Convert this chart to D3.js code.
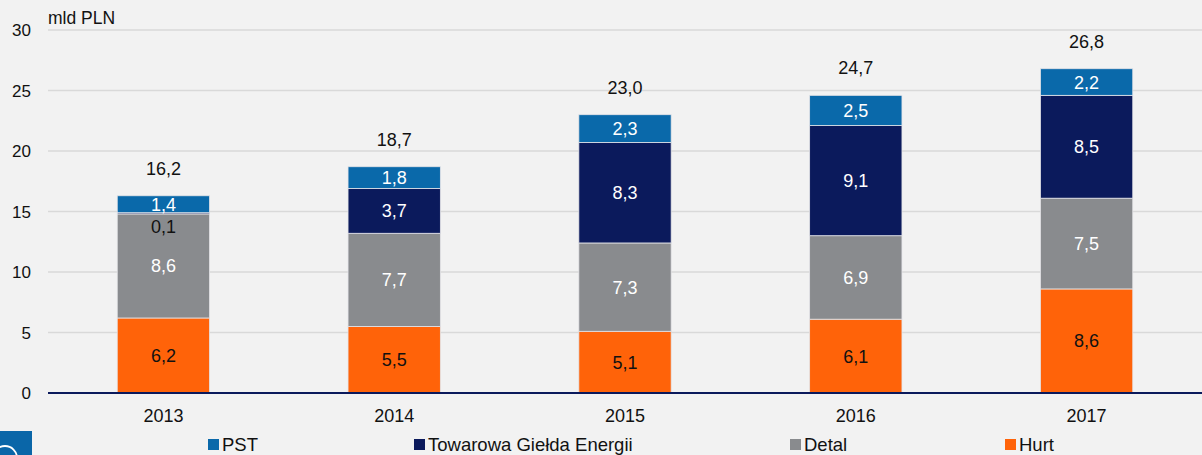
<!DOCTYPE html>
<html><head><meta charset="utf-8">
<script src="https://cdn.jsdelivr.net/npm/d3@7"></script>
<style>
html,body{margin:0;padding:0;background:#F2F2F2;}
svg{display:block;font-family:"Liberation Sans",Arial,sans-serif;}
</style></head><body>
<svg id="c" width="1202" height="455"></svg>
<script>
const years = ["2013","2014","2015","2016","2017"];
const seriesNames = ["Hurt","Detal","Towarowa Giełda Energii","PST"];
const hurt = [6.2,5.5,5.1,6.1,8.6];
const detal = [8.6,7.7,7.3,6.9,7.5];
const tge = [0.1,3.7,8.3,9.1,8.5];
const pst = [1.4,1.8,2.3,2.5,2.2];
const totals = [16.2,18.7,23.0,24.7,26.8];
const yTicks = [0,5,10,15,20,25,30];
const legendOrder = ["PST","Towarowa Giełda Energii","Detal","Hurt"];
const colors = {"Hurt":"#FF6309","Detal":"#898B8E","Towarowa Giełda Energii":"#0B1A5C","PST":"#0A69AA"};
const labelColors = {"Hurt":"#111","Detal":"#fff","Towarowa Giełda Energii":"#fff","PST":"#fff"};

const svg = d3.select("#c");
const x = d3.scaleBand().domain(years).range([48,1202]).paddingInner(0.6).paddingOuter(0.3);
const y = d3.scaleLinear().domain([0,30]).range([393,30]);

// gridlines
svg.append("g").selectAll("line").data(yTicks.filter(d=>d>0)).join("line")
  .attr("x1",48).attr("x2",1202).attr("y1",d=>y(d)).attr("y2",d=>y(d))
  .attr("stroke","#D9D9D9").attr("stroke-width",1.5);

// y labels
svg.append("g").selectAll("text").data(yTicks).join("text")
  .attr("x",31).attr("y",d=>y(d)+6).attr("text-anchor","end")
  .attr("font-size",17).attr("fill","#111").text(d=>d);

svg.append("text").attr("x",48).attr("y",24).attr("font-size",17.5).attr("fill","#111").text("mld PLN");

const vals = {"Hurt":hurt,"Detal":detal,"Towarowa Giełda Energii":tge,"PST":pst};
const table = years.map((yr,i)=>{const o={year:yr}; seriesNames.forEach(s=>o[s]=vals[s][i]); return o;});
const stack = d3.stack().keys(seriesNames)(table);

const bw = x.bandwidth();
const g = svg.append("g");
stack.forEach(layer=>{
  const key = layer.key;
  g.selectAll(null).data(layer).join("rect")
    .attr("x",d=>x(d.data.year)).attr("width",bw)
    .attr("y",d=>y(d[1])).attr("height",d=>y(d[0])-y(d[1]))
    .attr("fill",colors[key]).attr("stroke","#E4E4E8").attr("stroke-width",0.8);
});
// segment labels
stack.forEach(layer=>{
  const key = layer.key;
  g.selectAll(null).data(layer).join("text")
    .attr("x",d=>x(d.data.year)+bw/2)
    .attr("y",d=>{
      const v=d[1]-d[0];
      if(key==="Towarowa Giełda Energii" && v<0.5) return y(d[1])+20;
      return (y(d[0])+y(d[1]))/2+6.5;
    })
    .attr("text-anchor","middle").attr("font-size",18)
    .attr("fill",d=>(key==="Towarowa Giełda Energii" && d[1]-d[0]<0.5)?"#111":labelColors[key])
    .text(d=>d3.format(".1f")(d[1]-d[0]).replace(".",","));
});
// totals
g.selectAll(null).data(years).join("text")
  .attr("x",d=>x(d)+bw/2).attr("y",(d,i)=>y(d3.sum(seriesNames,s=>vals[s][i]))-21)
  .attr("text-anchor","middle").attr("font-size",18).attr("fill","#111")
  .text((d,i)=>d3.format(".1f")(totals[i]).replace(".",","));

// axis line
svg.append("line").attr("x1",48).attr("x2",1202).attr("y1",393).attr("y2",393)
  .attr("stroke","#0B1A5C").attr("stroke-width",2);

// x labels
svg.append("g").selectAll("text").data(years).join("text")
  .attr("x",d=>x(d)+bw/2).attr("y",422).attr("text-anchor","middle")
  .attr("font-size",18).attr("fill","#111").text(d=>d);

// legend
const legX = [208,414,790,1005];
const lg = svg.append("g");
legendOrder.forEach((k,i)=>{
  lg.append("rect").attr("x",legX[i]).attr("y",439).attr("width",11).attr("height",11).attr("fill",colors[k]);
  lg.append("text").attr("x",legX[i]+14).attr("y",450.5).attr("font-size",18.5).attr("fill","#111").text(k);
});

// logo fragment
const defs = svg.append("defs");
defs.append("clipPath").attr("id","lc").append("rect").attr("x",0).attr("y",431).attr("width",32).attr("height",24);
svg.append("rect").attr("x",0).attr("y",431).attr("width",32).attr("height",24).attr("fill","#0A66A8");
svg.append("circle").attr("cx",5).attr("cy",458).attr("r",12).attr("fill","none")
  .attr("stroke","#fff").attr("stroke-width",1.8).attr("clip-path","url(#lc)");
</script>
</body></html>
